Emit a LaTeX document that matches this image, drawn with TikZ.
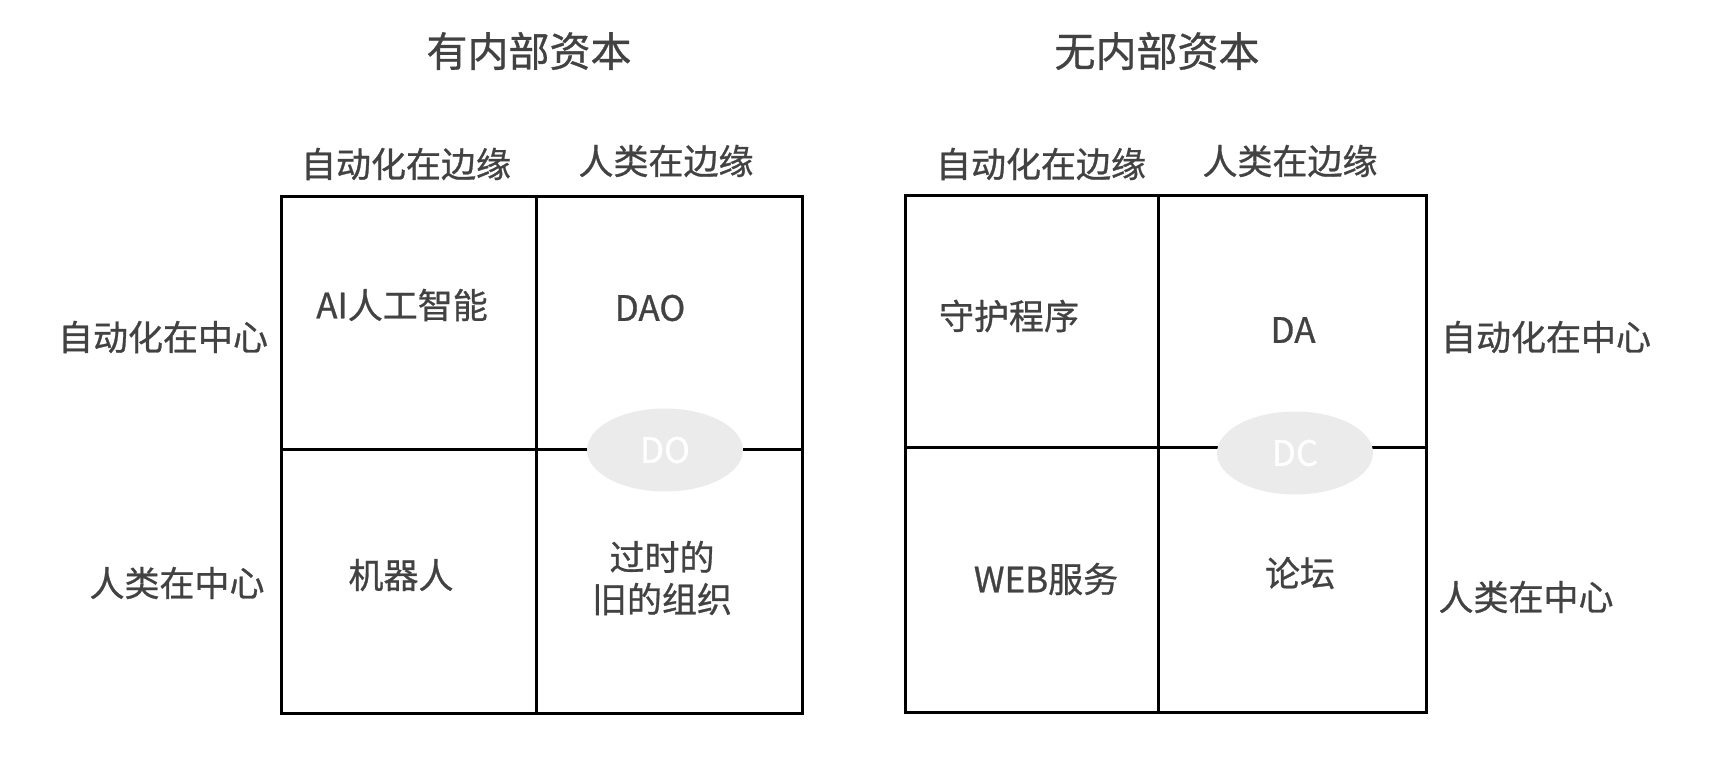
\documentclass[tikz,border=0pt]{standalone}
\usepackage{fontspec}
\setmainfont{Noto Sans CJK SC}
\newfontfamily\medfont{Noto Sans CJK SC}[FakeBold=0.8]
\usetikzlibrary{shapes.geometric}
\definecolor{txt}{HTML}{424242}
\definecolor{ovalfill}{HTML}{EBEBEB}
\tikzset{
  grid/.style={line width=3pt, black},
  lbl/.style={text=txt, font=\medfont\fontsize{35}{42}\selectfont, inner sep=0pt, align=center},
  ttl/.style={text=txt, font=\medfont\fontsize{41}{48}\selectfont, inner sep=0pt},
  oval/.style={ellipse, fill=ovalfill, minimum width=156pt, minimum height=83pt, inner sep=0pt,
    text=white, font=\medfont\fontsize{35}{42}\selectfont},
}
\begin{document}
\begin{tikzpicture}[x=1pt, y=-1pt]
\useasboundingbox (0,0) rectangle (1728,774);
% titles
\node[ttl] (t1) at (529,51) {有内部资本};
\node[ttl] (t2) at (1157,51) {无内部资本};
% left grid
\draw[grid] (281,196) rectangle (802,713);
\coordinate (lmt) at (536,196); \coordinate (lmb) at (536,713);
\coordinate (lml) at (281,449); \coordinate (lmr) at (802,449);
\draw[grid] (lmt) -- (lmb);
\draw[grid] (lml) -- (lmr);
% right grid
\draw[grid] (905,195) rectangle (1426,712);
\coordinate (rmt) at (1158,195); \coordinate (rmb) at (1158,712);
\coordinate (rml) at (905,447); \coordinate (rmr) at (1426,447);
\draw[grid] (rmt) -- (rmb);
\draw[grid] (rml) -- (rmr);
% column labels
\node[lbl] (c1) at (406,164) {自动化在边缘};
\node[lbl] (c2) at (666,161) {人类在边缘};
\node[lbl] (c3) at (1041,164) {自动化在边缘};
\node[lbl] (c4) at (1290,161) {人类在边缘};
% row labels
\node[lbl] (r1) at (163,337) {自动化在中心};
\node[lbl] (r2) at (177,583) {人类在中心};
\node[lbl] (r3) at (1546,337) {自动化在中心};
\node[lbl] (r4) at (1526,597) {人类在中心};
% cells left
\node[lbl] (a1) at (402,305) {AI人工智能};
\node[lbl] (a2) at (650,308) {DAO};
\node[lbl] (a3) at (401,575) {机器人};
\node[lbl] (a4) at (662,578) {过时的\\旧的组织};
% cells right
\node[lbl] (b1) at (1009,316) {守护程序};
\node[lbl] (b2) at (1293,330) {DA};
\node[lbl] (b3) at (1046,579) {WEB服务};
\node[lbl] (b4) at (1300,573) {论坛};
% ovals
\node[oval] (do) at (665,450) {DO};
\node[oval] (dc) at (1295,453) {DC};
\end{tikzpicture}
\end{document}
